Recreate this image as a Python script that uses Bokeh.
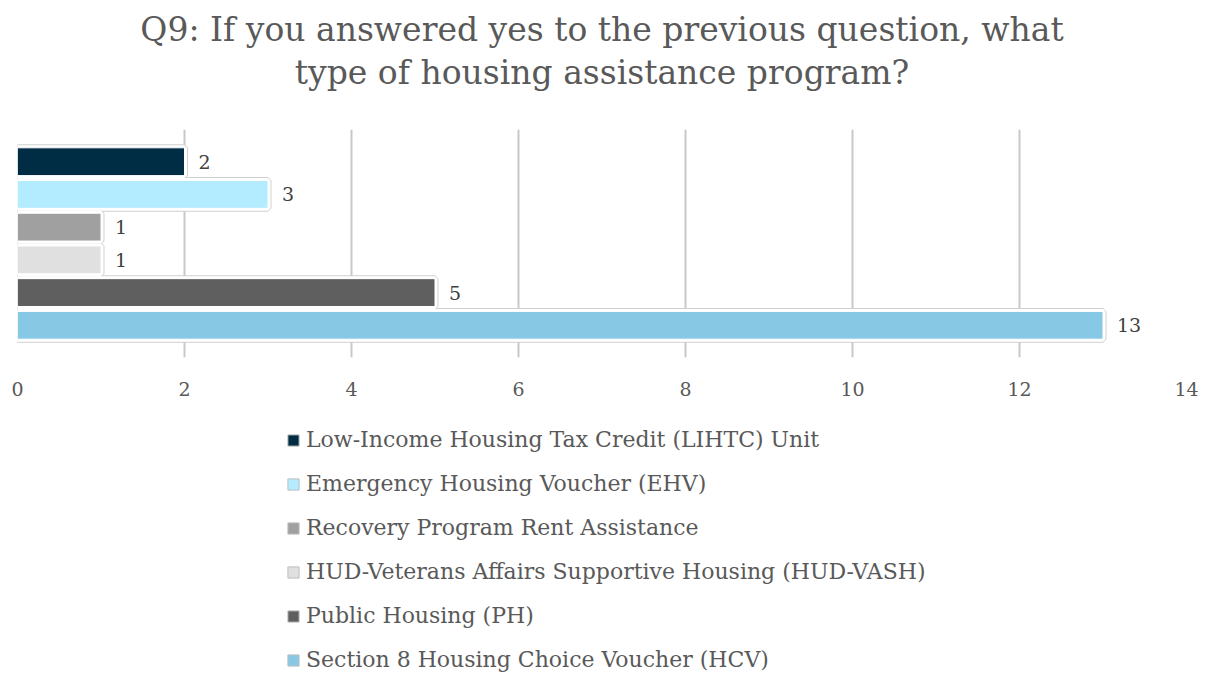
from bokeh.plotting import figure
from bokeh.layouts import column
from bokeh.models import FactorRange, Range1d, Title, Legend, LegendItem, ColumnDataSource, FixedTicker
from bokeh.embed import file_html
from bokeh.resources import INLINE

categories = [
    "Low-Income Housing Tax Credit (LIHTC) Unit",
    "Emergency Housing Voucher (EHV)",
    "Recovery Program Rent Assistance",
    "HUD-Veterans Affairs Supportive Housing (HUD-VASH)",
    "Public Housing (PH)",
    "Section 8 Housing Choice Voucher (HCV)",
]
values = [2, 3, 1, 1, 5, 13]
colors = ["#002D43", "#B3EBFF", "#A0A0A0", "#E0E0E0", "#5F5F5F", "#87C9E5"]
x_ticks = [0, 2, 4, 6, 8, 10, 12, 14]

FONT = "DejaVu Serif"
TXT = "#595959"

src = ColumnDataSource(dict(cat=categories, val=values, color=colors,
                            lab=[str(v) for v in values]))

# ---------------- main chart ----------------
p = figure(width=1204, height=410, output_backend="svg", toolbar_location=None,
           title=None,
           y_range=FactorRange(factors=categories[::-1], range_padding=0.485,
                               range_padding_units="absolute"),
           x_range=Range1d(0, 14),
           min_border_left=17, min_border_right=18, min_border_top=129,
           min_border_bottom=53)
p.outline_line_color = None
p.background_fill_color = "white"
p.border_fill_color = "white"

spacer = Title(text=" ", text_font_size="10px", standoff=22)
t2 = Title(text="type of housing assistance program?", align="center",
           text_font=FONT, text_font_size="33px", text_color=TXT,
           text_font_style="normal", standoff=5)
t1 = Title(text="Q9: If you answered yes to the previous question, what", align="center",
           text_font=FONT, text_font_size="33px", text_color=TXT,
           text_font_style="normal", standoff=0)
p.add_layout(spacer, "above")
p.add_layout(t2, "above")
p.add_layout(t1, "above")

H = 0.85
p.hbar(y="cat", right="val", left=0, height=H, source=src,
       fill_color=None, line_color="#d0d0d0", line_width=7)
p.hbar(y="cat", right="val", left=0, height=H, source=src,
       fill_color="white", line_color="white", line_width=5)
p.hbar(y="cat", right="val", left=0, height=H, source=src,
       fill_color="color", line_color="white", line_width=1)

p.text(x="val", y="cat", text="lab", source=src, x_offset=14,
       text_baseline="middle", text_align="left", text_font_size="19px",
       text_color="#404040", text_font={"value": FONT})

p.yaxis.visible = False
p.ygrid.grid_line_color = None
p.xgrid.grid_line_color = "#c8c8c8"
p.xgrid.grid_line_width = 2
p.xaxis.ticker = FixedTicker(ticks=x_ticks)
p.xaxis.axis_line_color = None
p.xaxis.major_tick_line_color = None
p.xaxis.minor_tick_line_color = None
p.xaxis.major_tick_out = 0
p.xaxis.major_tick_in = 0
p.xaxis.major_label_standoff = 24
p.xaxis.major_label_text_font = FONT
p.xaxis.major_label_text_font_size = "19px"
p.xaxis.major_label_text_color = TXT

# ---------------- legend panel ----------------
q = figure(width=1204, height=264, output_backend="svg", toolbar_location=None,
           title=None, x_range=Range1d(0, 14),
           y_range=FactorRange(factors=categories[::-1]),
           min_border_left=0, min_border_right=0, min_border_top=0,
           min_border_bottom=0)
q.outline_line_color = None
q.axis.visible = False
q.grid.grid_line_color = None
proxy = q.hbar(y="cat", right="val", left=0, height=H, source=src,
               fill_color="color", line_color="#bfbfbf", line_width=1)
proxy.visible = False

items = [LegendItem(label=c, renderers=[proxy], index=i) for i, c in enumerate(categories)]
legend = Legend(items=items, location=(269, 2), orientation="vertical",
                label_text_font=FONT, label_text_font_size="22px",
                label_text_color=TXT, glyph_width=14, glyph_height=14,
                label_height=20, spacing=19, padding=0, margin=0,
                border_line_color=None, background_fill_alpha=0,
                label_standoff=6, click_policy="none")
q.add_layout(legend, "center")

open("out.html", "w").write(file_html(column(p, q, spacing=0), INLINE))
